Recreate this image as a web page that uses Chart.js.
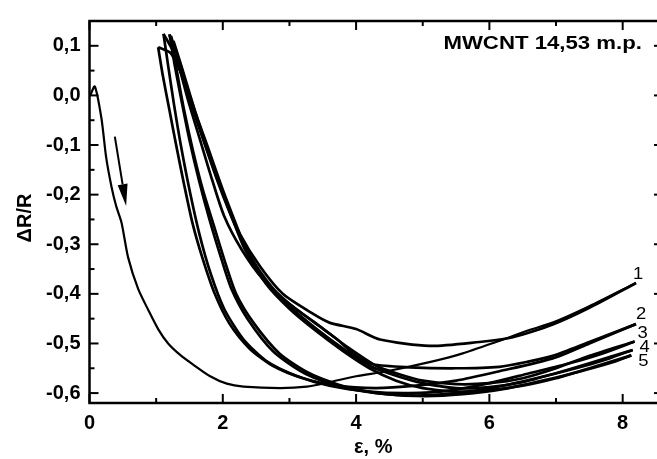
<!DOCTYPE html>
<html>
<head>
<meta charset="utf-8">
<script src="https://cdn.jsdelivr.net/npm/chart.js@4.4.1/dist/chart.umd.min.js"></script>
<style>
  html, body { margin: 0; padding: 0; background: #fff; }
  #wrap { width: 657px; height: 459px; }
</style>
</head>
<body>
<div id="wrap"><canvas id="strainChart" width="657" height="459"></canvas></div>
<script>
const xTicks = [0, 2, 4, 6, 8];
const xMinorTicks = [1, 3, 5, 7];
const yTicks = [0.1, 0.0, -0.1, -0.2, -0.3, -0.4, -0.5, -0.6];
const yMinorTicks = [0.05, -0.05, -0.15, -0.25, -0.35, -0.45, -0.55];

const cycleLabels = ['1', '2', '3', '4', '5'];

// first loading from zero strain
const load1 = [[0.01, 0.0], [0.08, 0.018], [0.18, -0.047], [0.25, -0.125], [0.33, -0.184], [0.4, -0.223],
  [0.48, -0.256], [0.58, -0.327], [0.73, -0.39], [0.88, -0.432], [1.03, -0.471], [1.18, -0.5],
  [1.36, -0.523], [1.56, -0.543], [1.81, -0.566], [2.06, -0.581], [2.31, -0.587], [2.86, -0.59],
  [3.26, -0.587], [3.6, -0.578], [4.0, -0.566], [4.46, -0.556], [5.15, -0.536], [5.6, -0.52],
  [6.1, -0.497], [6.6, -0.473], [6.95, -0.458], [7.5, -0.425], [8.2, -0.378]];

// unloading branches (from the end point back to the residual strain)
const unload1 = [[8.2, -0.378], [7.5, -0.428], [6.95, -0.462], [6.6, -0.478], [6.3, -0.489], [5.85, -0.497],
  [5.1, -0.505], [4.36, -0.492], [4.0, -0.471], [3.6, -0.458], [3.35, -0.44], [2.9, -0.4],
  [2.56, -0.345], [2.26, -0.28], [2.08, -0.225], [1.88, -0.15], [1.65, -0.06], [1.45, 0.02],
  [1.22, 0.085], [1.03, 0.097]];
const unload2 = [[8.2, -0.461], [7.5, -0.497], [6.95, -0.525], [6.6, -0.536], [6.15, -0.547], [5.5, -0.55],
  [4.8, -0.548], [4.25, -0.542], [4.0, -0.525], [3.7, -0.49], [3.35, -0.455], [2.9, -0.41],
  [2.56, -0.355], [2.28, -0.29], [2.1, -0.235], [1.9, -0.165], [1.67, -0.075], [1.46, 0.01],
  [1.27, 0.085], [1.11, 0.124]];
const unload3 = [[8.18, -0.496], [7.5, -0.525], [7.0, -0.55], [6.5, -0.57], [6.0, -0.58], [5.5, -0.582],
  [5.0, -0.575], [4.6, -0.56], [4.3, -0.545], [3.9, -0.51], [3.5, -0.47], [3.0, -0.42],
  [2.6, -0.37], [2.28, -0.31], [2.02, -0.243], [1.84, -0.17], [1.66, -0.09], [1.48, -0.01],
  [1.32, 0.07], [1.2, 0.123]];
const unload4 = [[8.15, -0.513], [7.5, -0.54], [7.0, -0.56], [6.5, -0.578], [6.0, -0.588], [5.5, -0.59],
  [5.0, -0.58], [4.6, -0.565], [4.2, -0.545], [3.8, -0.51], [3.4, -0.47], [3.0, -0.425],
  [2.6, -0.37], [2.33, -0.31], [2.15, -0.25], [1.95, -0.18], [1.74, -0.1], [1.54, -0.02],
  [1.37, 0.06], [1.22, 0.12]];
const unload5 = [[8.13, -0.524], [7.5, -0.55], [7.0, -0.57], [6.5, -0.585], [6.0, -0.594], [5.5, -0.597],
  [5.0, -0.59], [4.6, -0.575], [4.2, -0.55], [3.8, -0.515], [3.4, -0.475], [3.0, -0.43],
  [2.65, -0.38], [2.38, -0.32], [2.2, -0.26], [2.0, -0.19], [1.79, -0.11], [1.58, -0.03],
  [1.4, 0.05], [1.26, 0.11]];

// loading branches of cycles 2-5
const load2 = [[1.03, 0.097], [1.1, 0.04], [1.2, -0.03], [1.3, -0.1], [1.42, -0.18], [1.55, -0.26],
  [1.7, -0.33], [1.88, -0.4], [2.1, -0.46], [2.4, -0.51], [2.75, -0.545], [3.2, -0.57],
  [3.7, -0.585], [4.3, -0.59], [4.9, -0.585], [5.5, -0.575], [6.15, -0.556], [6.95, -0.53],
  [7.5, -0.5], [8.2, -0.461]];
const load3 = [[1.11, 0.124], [1.18, 0.06], [1.27, -0.02], [1.37, -0.1], [1.5, -0.19], [1.65, -0.28],
  [1.82, -0.36], [2.02, -0.43], [2.3, -0.49], [2.65, -0.535], [3.1, -0.565], [3.6, -0.585],
  [4.2, -0.597], [4.8, -0.6], [5.4, -0.595], [6.0, -0.58], [6.6, -0.56], [7.2, -0.54],
  [7.7, -0.52], [8.18, -0.496]];
const load4 = [[1.2, 0.123], [1.28, 0.06], [1.38, -0.01], [1.5, -0.09], [1.64, -0.17], [1.8, -0.25],
  [1.98, -0.33], [2.13, -0.39], [2.37, -0.45], [2.75, -0.515], [3.2, -0.558], [3.7, -0.585],
  [4.3, -0.6], [4.9, -0.605], [5.5, -0.6], [6.1, -0.588], [6.7, -0.57], [7.3, -0.55],
  [7.8, -0.53], [8.15, -0.513]];
const load5 = [[1.22, 0.12], [1.31, 0.05], [1.42, -0.03], [1.55, -0.11], [1.7, -0.19], [1.86, -0.26],
  [2.02, -0.33], [2.2, -0.4], [2.47, -0.46], [2.85, -0.52], [3.3, -0.56], [3.85, -0.588],
  [4.45, -0.602], [5.05, -0.606], [5.6, -0.602], [6.2, -0.592], [6.8, -0.575], [7.4, -0.555],
  [7.8, -0.54], [8.13, -0.524]];

const unloadCurves = [unload1, unload2, unload3, unload4, unload5];
const loadCurves = [load1, load2, load3, load4, load5];

// arrow showing the direction of the first loading
const arrowTail = [0.38, -0.083];
const arrowTip = [0.55, -0.223];

const toPoints = arr => arr.map(p => ({ x: p[0], y: p[1] }));

const datasets = [];
loadCurves.forEach((c, i) => {
    datasets.push({ label: 'load ' + (i + 1), data: toPoints(c), borderWidth: i === 0 ? 2.2 : 2.7 });
    datasets.push({ label: 'unload ' + (i + 1), data: toPoints(unloadCurves[i]), borderWidth: 2.7 });
});
datasets.forEach(d => {
    d.borderColor = '#000';
    d.pointRadius = 0;
    d.tension = 0.25;
    d.fill = false;
});

const labelFont = 'Liberation Sans, Arial, sans-serif';

// text helper, the original lettering is a bit wider than the font
function wideText(ctx, text, x, y, font, align, sx) {
    ctx.save();
    ctx.font = font;
    ctx.textAlign = align;
    ctx.textBaseline = 'middle';
    ctx.translate(x, y);
    ctx.scale(sx, 1);
    ctx.fillText(text, 0, 0);
    ctx.restore();
}

const frameAndNotes = {
    id: 'frameAndNotes',
    afterDraw(chart) {
        const { ctx, chartArea: a, scales: { x, y } } = chart;
        ctx.save();
        ctx.strokeStyle = '#000';
        ctx.fillStyle = '#000';

        // frame (right side lies just outside the picture)
        ctx.lineWidth = 2.5;
        ctx.beginPath();
        ctx.moveTo(a.right + 2, a.top);
        ctx.lineTo(a.left, a.top);
        ctx.lineTo(a.left, a.bottom);
        ctx.lineTo(a.right + 2, a.bottom);
        ctx.stroke();

        // inward ticks
        ctx.lineWidth = 2;
        const seg = (x0, y0, x1, y1) => {
            ctx.beginPath(); ctx.moveTo(x0, y0); ctx.lineTo(x1, y1); ctx.stroke();
        };
        xTicks.forEach(v => {
            const px = x.getPixelForValue(v);
            seg(px, a.bottom, px, a.bottom - 9);
            seg(px, a.top, px, a.top + 9);
        });
        xMinorTicks.forEach(v => {
            const px = x.getPixelForValue(v);
            seg(px, a.bottom, px, a.bottom - 5);
            seg(px, a.top, px, a.top + 5);
        });
        yTicks.forEach(v => {
            const py = y.getPixelForValue(v);
            seg(a.left, py, a.left + 9, py);
            seg(a.right - 3, py, a.right, py);
        });
        yMinorTicks.forEach(v => {
            const py = y.getPixelForValue(v);
            seg(a.left, py, a.left + 5, py);
        });

        // arrow
        const tx = x.getPixelForValue(arrowTail[0]), ty = y.getPixelForValue(arrowTail[1]);
        const hx = x.getPixelForValue(arrowTip[0]), hy = y.getPixelForValue(arrowTip[1]);
        const ang = Math.atan2(hy - ty, hx - tx);
        const len = 22, half = 5;
        const bx = hx - len * Math.cos(ang), by = hy - len * Math.sin(ang);
        seg(tx, ty, bx, by);
        ctx.beginPath();
        ctx.moveTo(hx, hy);
        ctx.lineTo(bx + half * Math.sin(ang), by - half * Math.cos(ang));
        ctx.lineTo(bx - half * Math.sin(ang), by + half * Math.cos(ang));
        ctx.closePath();
        ctx.fill();

        // sample name
        wideText(ctx, 'MWCNT 14,53 m.p.', a.right - 15, a.top + 23, 'bold 18.5px ' + labelFont, 'right', 1.2);

        // cycle numbers next to the end points
        const offs = [[2, -8], [5, -10], [8, -8], [12, -2], [12, 6]];
        unloadCurves.forEach((c, i) => {
            const px = x.getPixelForValue(c[0][0]) + offs[i][0];
            const py = y.getPixelForValue(c[0][1]) + offs[i][1];
            wideText(ctx, cycleLabels[i], px, py, '16px ' + labelFont, 'center', 1.15);
        });

        // y axis title
        ctx.save();
        ctx.translate(25, 218);
        ctx.rotate(-Math.PI / 2);
        ctx.font = 'bold 20px ' + labelFont;
        ctx.textAlign = 'center';
        ctx.textBaseline = 'middle';
        ctx.fillText('\u0394R/R', 0, 0);
        ctx.restore();

        ctx.restore();
    }
};

const tickFont = { family: labelFont, size: 20, weight: 'bold' };

new Chart(document.getElementById('strainChart'), {
    type: 'line',
    data: { datasets: datasets },
    options: {
        responsive: false,
        animation: false,
        layout: { padding: { top: 10, right: 0, left: 0, bottom: 0 } },
        plugins: { legend: { display: false }, tooltip: { enabled: false } },
        scales: {
            x: {
                type: 'linear',
                min: 0,
                max: 8.515,
                grid: { display: false, drawTicks: false },
                border: { display: false },
                afterFit: s => { s.height = 56; },
                afterBuildTicks: s => { s.ticks = xTicks.map(v => ({ value: v })); },
                ticks: {
                    color: '#000',
                    font: tickFont,
                    padding: 8,
                    maxRotation: 0,
                    callback: v => String(v)
                },
                title: {
                    display: true,
                    text: '\u03b5, %',
                    color: '#000',
                    font: { family: labelFont, size: 20, weight: 'bold' },
                    padding: { top: 0, bottom: 0 }
                }
            },
            y: {
                type: 'linear',
                min: -0.62,
                max: 0.15,
                grid: { display: false, drawTicks: false },
                border: { display: false },
                afterFit: s => { s.width = 89.5; },
                afterBuildTicks: s => { s.ticks = yTicks.map(v => ({ value: v })); },
                ticks: {
                    color: '#000',
                    font: tickFont,
                    padding: 9,
                    callback: v => (Math.abs(v) < 1e-9 ? 0 : v).toFixed(1).replace('.', ',')
                }
            }
        }
    },
    plugins: [frameAndNotes]
});
</script>
</body>
</html>
